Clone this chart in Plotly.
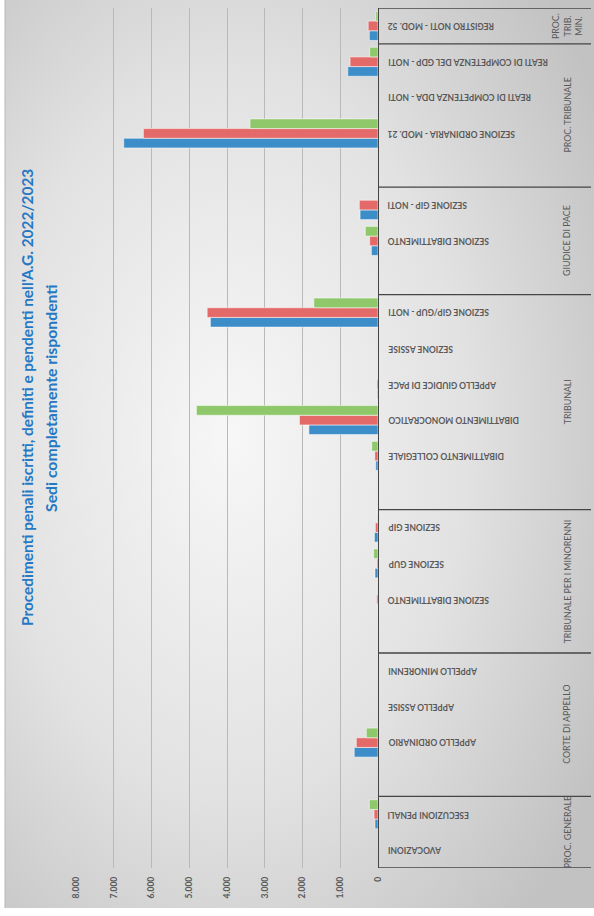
import base64
import plotly.graph_objects as go

# ---------------- data (bottom to top) ----------------
categories = ["AVOCAZIONI", "ESECUZIONI PENALI",
              "", "APPELLO ORDINARIO", "APPELLO ASSISE", "APPELLO MINORENNI",
              "", "SEZIONE DIBATTIMENTO", "SEZIONE GUP", "SEZIONE GIP",
              "", "DIBATTIMENTO COLLEGIALE", "DIBATTIMENTO MONOCRATICO", "APPELLO GIUDICE DI PACE ",
              "SEZIONE ASSISE", "SEZIONE GIP/GUP - NOTI",
              "", "SEZIONE DIBATTIMENTO", "SEZIONE GIP - NOTI",
              "", "SEZIONE ORDINARIA - MOD. 21", "REATI DI COMPETENZA DDA - NOTI",
              "REATI DI COMPETENZA DEL GDP - NOTI",
              "REGISTRO NOTI - MOD. 52"]
group_names = ["PROC. GENERALE", "CORTE DI APPELLO", "TRIBUNALE PER I MINORENNI",
               "TRIBUNALI", "GIUDICE DI PACE", "PROC. TRIBUNALE", "PROC.<br>TRIB.<br>MIN."]
group_sizes = [2, 4, 4, 6, 3, 4, 1]

iscritti = [None, 80, None, 630, None, None, None, 5, 80, 95, None, 60, 1830, 20,
            None, 4440, None, 175, 475, None, 6735, None, 800, 230]
definiti = [None, 105, None, 575, None, None, None, 35, 30, 70, None, 85, 2080, 30,
            None, 4525, None, 220, 495, None, 6215, None, 740, 260]
pendenti = [None, 230, None, 310, None, None, None, 20, 115, 20, None, 165, 4810, None,
            None, 1700, None, 335, None, None, 3390, None, 220, 60]

series_names = ["Iscritti", "Definiti", "Pendenti"]
series_colors = ["#3d8dc8", "#e36a69", "#8ec86b"]

title_line1 = "Procedimenti penali iscritti, definiti e pendenti nell'A.G. 2022/2023"
title_line2 = "Sedi completamente rispondenti"

# ---------------- figure ----------------
W, H = 594, 916
ML, MR, MT, MB = 76, 216, 8, 48
PW = W - ML - MR
PH = H - MT - MB


def px_x(px):
    return (px - ML) / PW


def px_y(py):
    return (H - MB - py) / PH


ypos = list(range(len(categories)))

fig = go.Figure()
for name, vals, col in zip(series_names, [iscritti, definiti, pendenti], series_colors):
    fig.add_trace(go.Bar(
        y=ypos, x=vals, name=name, orientation="h",
        marker=dict(color=col, line=dict(color="rgba(255,255,255,0.75)", width=0.7)),
        showlegend=False,
    ))

FONT = "Lato, 'Open Sans', sans-serif"
GRAY = "#595959"

annotations = []
# category labels (upside down)
for i, c in enumerate(categories):
    if c.strip():
        annotations.append(dict(
            x=px_x(386), y=i, xref="paper", yref="y", text=c.strip(),
            showarrow=False, textangle=180, xanchor="left", yanchor="middle",
            font=dict(family=FONT, size=8.5, color=GRAY, weight="bold")))

# group labels and separators
shapes = []
start = 0
bounds = [-0.5]
for g, n in zip(group_names, group_sizes):
    center = start + (n - 1) / 2
    annotations.append(dict(
        x=px_x(567), y=center, xref="paper", yref="y", text=g,
        showarrow=False, textangle=-90, xanchor="center", yanchor="middle",
        font=dict(family=FONT, size=8.8, color=GRAY)))
    start += n
    bounds.append(start - 0.5)

for b in bounds:
    shapes.append(dict(type="line", xref="paper", yref="y",
                       x0=1.0, x1=px_x(591), y0=b, y1=b,
                       line=dict(color="#454545", width=1.3)))

# left border of chart area
shapes.append(dict(type="line", xref="paper", yref="paper",
                   x0=px_x(5), x1=px_x(5), y0=px_y(908), y1=px_y(0),
                   line=dict(color="#b8b8b8", width=1)))

# title
annotations.append(dict(
    x=px_x(27), y=px_y(398), xref="paper", yref="paper", text=title_line1,
    showarrow=False, textangle=-90, xanchor="center", yanchor="middle",
    font=dict(family=FONT, size=15.4, color="#2478c4", weight="bold")))
annotations.append(dict(
    x=px_x(50), y=px_y(398), xref="paper", yref="paper", text=title_line2,
    showarrow=False, textangle=-90, xanchor="center", yanchor="middle",
    font=dict(family=FONT, size=15.8, color="#2478c4", weight="bold")))

# background gradient
svg = ("<svg xmlns='http://www.w3.org/2000/svg' width='600' height='908' preserveAspectRatio='none'>"
       "<defs><radialGradient id='g' cx='0.38' cy='0.48' r='0.72'>"
       "<stop offset='0' stop-color='#f7f7f7'/>"
       "<stop offset='0.55' stop-color='#e2e2e2'/>"
       "<stop offset='1' stop-color='#c2c2c2'/>"
       "</radialGradient></defs>"
       "<rect width='600' height='908' fill='url(#g)'/></svg>")
img_src = "data:image/svg+xml;base64," + base64.b64encode(svg.encode()).decode()

fig.update_layout(
    width=W, height=H,
    margin=dict(l=ML, r=MR, t=MT, b=MB, pad=0),
    paper_bgcolor="white", plot_bgcolor="rgba(0,0,0,0)",
    barmode="group", bargap=0.19, bargroupgap=0,
    separators=",.",
    annotations=annotations, shapes=shapes,
    images=[dict(source=img_src, xref="paper", yref="paper",
                 x=px_x(5), y=px_y(0), sizex=px_x(600) - px_x(5),
                 sizey=px_y(0) - px_y(908), xanchor="left", yanchor="top",
                 sizing="stretch", layer="below")],
    xaxis=dict(range=[8000, 0], dtick=1000, tickformat=",.0f", tickangle=-90,
               showgrid=True, gridcolor="#b9b9b9", gridwidth=1,
               zeroline=False, showline=False, ticks="",
               tickfont=dict(family=FONT, size=8.5, color=GRAY, weight="bold"),
               ticklabelstandoff=6),
    yaxis=dict(range=[-0.5, len(categories) - 0.5], side="right",
               showticklabels=False, showgrid=False, zeroline=False,
               showline=True, linecolor="#454545", linewidth=1.3, ticks=""),
)

fig.write_html("out.html", config={"displayModeBar": False},
               post_script="document.body.style.margin='0';document.body.style.overflow='hidden';")
